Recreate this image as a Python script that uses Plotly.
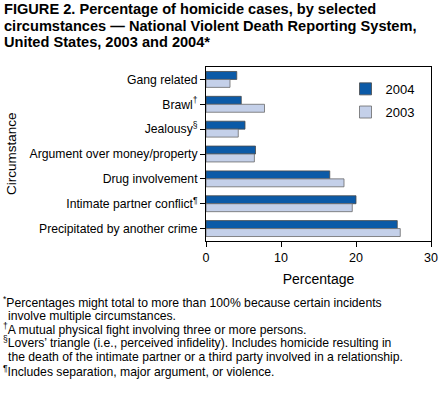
import plotly.graph_objects as go

categories = [
    "Gang related",
    "Brawl<sup>†</sup>",
    "Jealousy<sup>§</sup>",
    "Argument over money/property",
    "Drug involvement",
    "Intimate partner conflict<sup>¶</sup>",
    "Precipitated by another crime",
]
values_2004 = [4.1, 4.7, 5.2, 6.6, 16.5, 20.0, 25.5]
values_2003 = [3.2, 7.8, 4.3, 6.45, 18.4, 19.5, 25.9]
x_ticks = [0, 10, 20, 30]

title_lines = [
    "FIGURE 2. Percentage of homicide cases, by selected",
    "circumstances — National Violent Death Reporting System,",
    "United States, 2003 and 2004*",
]
footnotes = [
    ("*", "Percentages might total to more than 100% because certain incidents"),
    ("", "involve multiple circumstances."),
    ("†", "A mutual physical fight involving three or more persons."),
    ("§", "Lovers’ triangle (i.e., perceived infidelity). Includes homicide resulting in"),
    ("", "the death of the intimate partner or a third party involved in a relationship."),
    ("¶", "Includes separation, major argument, or violence."),
]

FONT = "Liberation Sans, Arial, Helvetica, sans-serif"
C2004 = "#0b5aa7"
C2003 = "#c4d0e9"

L, R, T, B = 206, 13, 67, 155

fig = go.Figure()
fig.add_trace(go.Bar(
    y=categories, x=values_2004, orientation="h", name="2004",
    marker=dict(color=C2004, line=dict(color="#4a4a4a", width=0.8)),
    legend="legend", hoverinfo="skip",
))
fig.add_trace(go.Bar(
    y=categories, x=values_2003, orientation="h", name="2003",
    marker=dict(color=C2003, line=dict(color="#6a6a6a", width=0.8)),
    legend="legend2", hoverinfo="skip",
))

annotations = []
title_y = [9, 25.5, 42]
for line, yp in zip(title_lines, title_y):
    annotations.append(dict(
        text="<b>" + line + "</b>", xref="paper", yref="paper", x=0, y=1,
        xanchor="left", yanchor="middle", showarrow=False,
        font=dict(family=FONT, size=14.6, color="black"),
        xshift=-L + 2, yshift=T - yp,
    ))

foot_y = [301.5, 315.5, 329, 342, 357, 370.5]
for (mark, line), yp in zip(footnotes, foot_y):
    text = ("<sup>" + mark + "</sup>" + line) if mark else line
    annotations.append(dict(
        text=text, xref="paper", yref="paper", x=0, y=0,
        xanchor="left", yanchor="middle", showarrow=False, borderpad=0,
        font=dict(family=FONT, size=12.2, color="black"),
        xshift=-L + (2 if mark else 7), yshift=-(yp - (396 - B)),
    ))

annotations.append(dict(
    text="Circumstance", xref="paper", yref="paper", x=0, y=0.5,
    xanchor="center", yanchor="middle", showarrow=False, textangle=-90,
    font=dict(family=FONT, size=13.5, color="black"),
    xshift=-L + 11,
))

fig.update_layout(
    width=444, height=396,
    margin=dict(l=L, r=R, t=T, b=B, autoexpand=False),
    paper_bgcolor="white", plot_bgcolor="white",
    font=dict(family=FONT, size=12, color="black"),
    barmode="group", bargap=0.36, bargroupgap=0.0,
    showlegend=True,
    legend=dict(x=0.62, y=0.874, xanchor="left", yanchor="middle",
                bgcolor="rgba(0,0,0,0)", font=dict(family=FONT, size=13)),
    legend2=dict(x=0.62, y=0.741, xanchor="left", yanchor="middle",
                 bgcolor="rgba(0,0,0,0)", font=dict(family=FONT, size=13)),
    annotations=annotations,
    xaxis=dict(
        range=[0, 30], tickvals=x_ticks, ticks="outside", ticklen=5,
        tickcolor="black", showline=True, linecolor="black", linewidth=1,
        mirror=True, showgrid=False, zeroline=False,
        tickfont=dict(family=FONT, size=12.5),
        title=dict(text="Percentage", font=dict(family=FONT, size=14), standoff=10),
    ),
    yaxis=dict(
        autorange="reversed", ticks="outside", ticklen=5, tickcolor="black",
        showline=True, linecolor="black", linewidth=1, mirror=True,
        showgrid=False, tickfont=dict(family=FONT, size=12.2),
    ),
)

fig.write_html("out.html", config={"displayModeBar": False},
               post_script="document.body.style.margin='0';")
